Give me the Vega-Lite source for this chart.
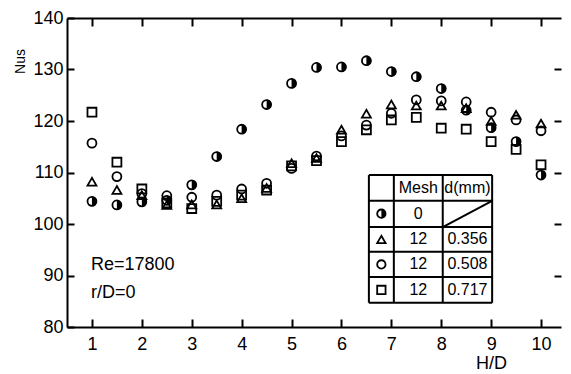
{
  "$schema": "https://vega.github.io/schema/vega-lite/v6.json",
  "width": 494,
  "height": 309,
  "autosize": {"type": "none"},
  "padding": {"left": 67, "top": 18, "right": 10, "bottom": 47},
  "background": "white",
  "config": {
    "view": {"stroke": null},
    "axis": {
      "grid": false,
      "domainColor": "black",
      "domainWidth": 2,
      "tickColor": "black",
      "tickWidth": 2,
      "labelColor": "black",
      "labelFont": "Liberation Sans",
      "labelFontSize": 18,
      "titleFont": "Liberation Sans",
      "titleFontWeight": "normal",
      "titleColor": "black"
    }
  },
  "datasets": {
    "nus": [
      {"HD": 1, "Nus": 104.4, "mesh": "0"},
      {"HD": 1.5, "Nus": 103.7, "mesh": "0"},
      {"HD": 2, "Nus": 104.3, "mesh": "0"},
      {"HD": 2.5, "Nus": 104.6, "mesh": "0"},
      {"HD": 3, "Nus": 107.6, "mesh": "0"},
      {"HD": 3.5, "Nus": 113.1, "mesh": "0"},
      {"HD": 4, "Nus": 118.4, "mesh": "0"},
      {"HD": 4.5, "Nus": 123.2, "mesh": "0"},
      {"HD": 5, "Nus": 127.3, "mesh": "0"},
      {"HD": 5.5, "Nus": 130.4, "mesh": "0"},
      {"HD": 6, "Nus": 130.5, "mesh": "0"},
      {"HD": 6.5, "Nus": 131.7, "mesh": "0"},
      {"HD": 7, "Nus": 129.6, "mesh": "0"},
      {"HD": 7.5, "Nus": 128.6, "mesh": "0"},
      {"HD": 8, "Nus": 126.3, "mesh": "0"},
      {"HD": 8.5, "Nus": 122.1, "mesh": "0"},
      {"HD": 9, "Nus": 118.7, "mesh": "0"},
      {"HD": 9.5, "Nus": 116.0, "mesh": "0"},
      {"HD": 10, "Nus": 109.5, "mesh": "0"},
      {"HD": 1, "Nus": 108.2, "mesh": "0.356"},
      {"HD": 1.5, "Nus": 106.6, "mesh": "0.356"},
      {"HD": 2, "Nus": 105.6, "mesh": "0.356"},
      {"HD": 2.5, "Nus": 103.7, "mesh": "0.356"},
      {"HD": 3, "Nus": 103.8, "mesh": "0.356"},
      {"HD": 3.5, "Nus": 103.8, "mesh": "0.356"},
      {"HD": 4, "Nus": 105.0, "mesh": "0.356"},
      {"HD": 4.5, "Nus": 107.0, "mesh": "0.356"},
      {"HD": 5, "Nus": 111.8, "mesh": "0.356"},
      {"HD": 5.5, "Nus": 112.8, "mesh": "0.356"},
      {"HD": 6, "Nus": 118.3, "mesh": "0.356"},
      {"HD": 6.5, "Nus": 121.4, "mesh": "0.356"},
      {"HD": 7, "Nus": 123.2, "mesh": "0.356"},
      {"HD": 7.5, "Nus": 123.0, "mesh": "0.356"},
      {"HD": 8, "Nus": 123.0, "mesh": "0.356"},
      {"HD": 8.5, "Nus": 122.5, "mesh": "0.356"},
      {"HD": 9, "Nus": 120.0, "mesh": "0.356"},
      {"HD": 9.5, "Nus": 121.2, "mesh": "0.356"},
      {"HD": 10, "Nus": 119.5, "mesh": "0.356"},
      {"HD": 1, "Nus": 115.7, "mesh": "0.508"},
      {"HD": 1.5, "Nus": 109.2, "mesh": "0.508"},
      {"HD": 2, "Nus": 105.9, "mesh": "0.508"},
      {"HD": 2.5, "Nus": 105.5, "mesh": "0.508"},
      {"HD": 3, "Nus": 105.2, "mesh": "0.508"},
      {"HD": 3.5, "Nus": 105.6, "mesh": "0.508"},
      {"HD": 4, "Nus": 106.8, "mesh": "0.508"},
      {"HD": 4.5, "Nus": 107.9, "mesh": "0.508"},
      {"HD": 5, "Nus": 110.8, "mesh": "0.508"},
      {"HD": 5.5, "Nus": 113.2, "mesh": "0.508"},
      {"HD": 6, "Nus": 117.1, "mesh": "0.508"},
      {"HD": 6.5, "Nus": 119.2, "mesh": "0.508"},
      {"HD": 7, "Nus": 121.5, "mesh": "0.508"},
      {"HD": 7.5, "Nus": 124.1, "mesh": "0.508"},
      {"HD": 8, "Nus": 123.9, "mesh": "0.508"},
      {"HD": 8.5, "Nus": 123.7, "mesh": "0.508"},
      {"HD": 9, "Nus": 121.7, "mesh": "0.508"},
      {"HD": 9.5, "Nus": 120.2, "mesh": "0.508"},
      {"HD": 10, "Nus": 118.1, "mesh": "0.508"},
      {"HD": 1, "Nus": 121.7, "mesh": "0.717"},
      {"HD": 1.5, "Nus": 112.0, "mesh": "0.717"},
      {"HD": 2, "Nus": 106.8, "mesh": "0.717"},
      {"HD": 2.5, "Nus": 104.1, "mesh": "0.717"},
      {"HD": 3, "Nus": 103.0, "mesh": "0.717"},
      {"HD": 3.5, "Nus": 104.4, "mesh": "0.717"},
      {"HD": 4, "Nus": 105.6, "mesh": "0.717"},
      {"HD": 4.5, "Nus": 106.6, "mesh": "0.717"},
      {"HD": 5, "Nus": 111.3, "mesh": "0.717"},
      {"HD": 5.5, "Nus": 112.3, "mesh": "0.717"},
      {"HD": 6, "Nus": 116.0, "mesh": "0.717"},
      {"HD": 6.5, "Nus": 118.3, "mesh": "0.717"},
      {"HD": 7, "Nus": 120.2, "mesh": "0.717"},
      {"HD": 7.5, "Nus": 120.7, "mesh": "0.717"},
      {"HD": 8, "Nus": 118.6, "mesh": "0.717"},
      {"HD": 8.5, "Nus": 118.4, "mesh": "0.717"},
      {"HD": 9, "Nus": 116.0, "mesh": "0.717"},
      {"HD": 9.5, "Nus": 114.5, "mesh": "0.717"},
      {"HD": 10, "Nus": 111.5, "mesh": "0.717"}
    ],
    "legendSymbols": [
      {"HD": 6.8, "Nus": 102.0, "mesh": "0"},
      {"HD": 6.8, "Nus": 97.0, "mesh": "0.356"},
      {"HD": 6.8, "Nus": 92.15, "mesh": "0.508"},
      {"HD": 6.8, "Nus": 87.2, "mesh": "0.717"}
    ],
    "tableLines": [
      {"x": 6.55, "x2": 9.02, "y": 109.5, "y2": 109.5},
      {"x": 6.55, "x2": 9.02, "y": 104.5, "y2": 104.5},
      {"x": 6.55, "x2": 9.02, "y": 99.4, "y2": 99.4},
      {"x": 6.55, "x2": 9.02, "y": 94.6, "y2": 94.6},
      {"x": 6.55, "x2": 9.02, "y": 89.7, "y2": 89.7},
      {"x": 6.55, "x2": 9.02, "y": 84.7, "y2": 84.7},
      {"x": 6.55, "x2": 6.55, "y": 84.7, "y2": 109.5},
      {"x": 7.05, "x2": 7.05, "y": 84.7, "y2": 109.5},
      {"x": 8.03, "x2": 8.03, "y": 84.7, "y2": 109.5},
      {"x": 9.02, "x2": 9.02, "y": 84.7, "y2": 109.5},
      {"x": 8.03, "x2": 9.02, "y": 99.4, "y2": 104.5}
    ],
    "tableText": [
      {"x": 7.54, "y": 107.0, "text": "Mesh"},
      {"x": 8.525, "y": 107.0, "text": "d(mm)"},
      {"x": 7.54, "y": 102.0, "text": "0"},
      {"x": 7.54, "y": 97.0, "text": "12"},
      {"x": 8.525, "y": 97.0, "text": "0.356"},
      {"x": 7.54, "y": 92.15, "text": "12"},
      {"x": 8.525, "y": 92.15, "text": "0.508"},
      {"x": 7.54, "y": 87.2, "text": "12"},
      {"x": 8.525, "y": 87.2, "text": "0.717"}
    ],
    "notes": [
      {"x": 0.98, "y": 92.0, "text": "Re=17800"},
      {"x": 0.98, "y": 86.6, "text": "r/D=0"}
    ]
  },
  "resolve": {"axis": {"x": "independent", "y": "independent"}},
  "layer": [
    {
      "data": {"name": "nus"},
      "mark": {"type": "point", "filled": false, "size": 80, "strokeWidth": 1.8, "color": "black", "opacity": 1},
      "encoding": {
        "x": {
          "field": "HD", "type": "quantitative",
          "scale": {"domain": [0.5, 10.4], "nice": false, "zero": false},
          "axis": {
            "orient": "bottom", "values": [1, 2, 3, 4, 5, 6, 7, 8, 9, 10],
            "tickSize": -8, "labelPadding": 16, "labelFlush": false,
            "title": "H/D", "titleFontSize": 18, "titleX": 424, "titleY": 27,
            "titleAlign": "center", "titleBaseline": "top"
          }
        },
        "y": {
          "field": "Nus", "type": "quantitative",
          "scale": {"domain": [80, 140], "nice": false, "zero": false},
          "axis": {
            "orient": "left", "values": [80, 90, 100, 110, 120, 130, 140],
            "tickSize": -7, "labelPadding": 11, "labelFlush": false,
            "title": "Nus", "titleFontSize": 14, "titleX": -47, "titleY": 43,
            "titleAngle": 270, "titleAlign": "center", "titleBaseline": "middle"
          }
        },
        "shape": {
          "field": "mesh", "type": "nominal",
          "scale": {"domain": ["0", "0.356", "0.508", "0.717"], "range": ["circle", "triangle-up", "circle", "square"]},
          "legend": null
        }
      }
    },
    {
      "data": {"name": "nus"},
      "transform": [{"filter": "datum.mesh === '0'"}],
      "mark": {"type": "point", "filled": true, "size": 80, "shape": "M0,-1.1A1.1,1.1,0,0,1,0,1.1Z", "color": "black", "opacity": 1, "strokeWidth": 0},
      "encoding": {
        "x": {
          "field": "HD", "type": "quantitative",
          "axis": {"orient": "top", "values": [1, 2, 3, 4, 5, 6, 7, 8, 9, 10], "labels": false, "title": null, "tickSize": -8}
        },
        "y": {
          "field": "Nus", "type": "quantitative",
          "axis": {"orient": "right", "values": [90, 100, 110, 120, 130], "labels": false, "title": null, "tickSize": -7, "domain": false}
        }
      }
    },
    {
      "data": {"name": "tableLines"},
      "mark": {"type": "rule", "color": "black", "strokeWidth": 2},
      "encoding": {
        "x": {"field": "x", "type": "quantitative", "axis": null},
        "x2": {"field": "x2"},
        "y": {"field": "y", "type": "quantitative", "axis": null},
        "y2": {"field": "y2"}
      }
    },
    {
      "data": {"name": "legendSymbols"},
      "mark": {"type": "point", "filled": false, "size": 70, "strokeWidth": 1.8, "color": "black", "opacity": 1},
      "encoding": {
        "x": {"field": "HD", "type": "quantitative", "axis": null},
        "y": {"field": "Nus", "type": "quantitative", "axis": null},
        "shape": {"field": "mesh", "type": "nominal", "legend": null}
      }
    },
    {
      "data": {"name": "legendSymbols"},
      "transform": [{"filter": "datum.mesh === '0'"}],
      "mark": {"type": "point", "filled": true, "size": 70, "shape": "M0,-1.1A1.1,1.1,0,0,1,0,1.1Z", "color": "black", "opacity": 1, "strokeWidth": 0},
      "encoding": {
        "x": {"field": "HD", "type": "quantitative", "axis": null},
        "y": {"field": "Nus", "type": "quantitative", "axis": null}
      }
    },
    {
      "data": {"name": "tableText"},
      "mark": {"type": "text", "font": "Liberation Sans", "fontSize": 16, "color": "black", "align": "center", "baseline": "middle"},
      "encoding": {
        "x": {"field": "x", "type": "quantitative", "axis": null},
        "y": {"field": "y", "type": "quantitative", "axis": null},
        "text": {"field": "text"}
      }
    },
    {
      "data": {"name": "notes"},
      "mark": {"type": "text", "font": "Liberation Sans", "fontSize": 18, "color": "black", "align": "left", "baseline": "middle"},
      "encoding": {
        "x": {"field": "x", "type": "quantitative", "axis": null},
        "y": {"field": "y", "type": "quantitative", "axis": null},
        "text": {"field": "text"}
      }
    }
  ]
}
